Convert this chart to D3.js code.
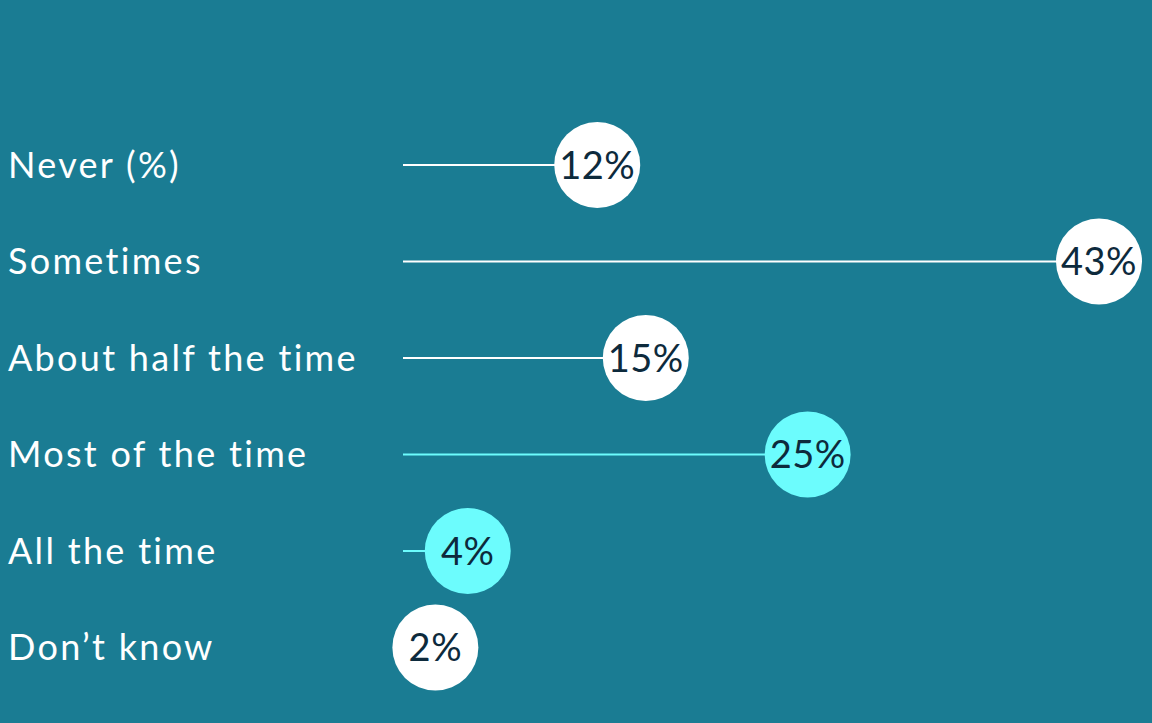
<!DOCTYPE html>
<html>
<head>
<meta charset="utf-8">
<script src="https://cdn.jsdelivr.net/npm/d3@7"></script>
<style>
  html, body { margin: 0; padding: 0; background: #1a7c93; }
  svg { display: block; }
  text { font-variant-ligatures: none; font-feature-settings: "liga" 0; }
</style>
</head>
<body>
<svg id="chart" width="1152" height="723"></svg>
<script>
// Survey answers and their shares (%)
const categories = ["Never (%)", "Sometimes", "About half the time", "Most of the time", "All the time", "Don\u2019t know"];
const values = [12, 43, 15, 25, 4, 2];
const highlighted = [false, false, false, true, true, false];

const W = 1152, H = 723;
const bg = "#1a7c93";
const white = "#ffffff";
const cyan = "#6cfcfd";
const ink = "#0d2a3c";
const R = 43;

const svg = d3.select("#chart");
svg.append("rect").attr("width", W).attr("height", H).attr("fill", bg);

const x = d3.scaleLinear().domain([0, 43]).range([403, 1099]);
const y = d3.scalePoint().domain(categories).range([165, 647.5]);

const rows = categories.map((c, i) => ({ cat: c, v: values[i], hi: highlighted[i] }));

const g = svg.append("g");

// category labels
g.selectAll("text.cat")
  .data(rows)
  .join("text")
  .attr("class", "cat")
  .attr("x", 8)
  .attr("y", d => y(d.cat))
  .attr("dy", "0.36em")
  .attr("fill", white)
  .style("font-family", "Lato, 'Open Sans', sans-serif")
  .style("font-size", "36px")
  .style("letter-spacing", "2.3px")
  .text(d => d.cat);

// stems from zero to the value
g.selectAll("line.stem")
  .data(rows)
  .join("line")
  .attr("class", "stem")
  .attr("x1", x(0))
  .attr("x2", d => x(d.v))
  .attr("y1", d => y(d.cat))
  .attr("y2", d => y(d.cat))
  .attr("stroke", d => d.hi ? cyan : white)
  .attr("stroke-width", 2);

// value bubbles
const dots = g.selectAll("g.dot")
  .data(rows)
  .join("g")
  .attr("class", "dot")
  .attr("transform", d => `translate(${x(d.v)},${y(d.cat)})`);

dots.append("circle")
  .attr("r", R)
  .attr("fill", d => d.hi ? cyan : white);

dots.append("text")
  .attr("text-anchor", "middle")
  .attr("dy", "0.36em")
  .attr("fill", ink)
  .style("font-family", "Lato, 'Open Sans', sans-serif")
  .style("font-size", "38px")
  .style("letter-spacing", "0.5px")
  .text(d => d.v + "%");
</script>
</body>
</html>
